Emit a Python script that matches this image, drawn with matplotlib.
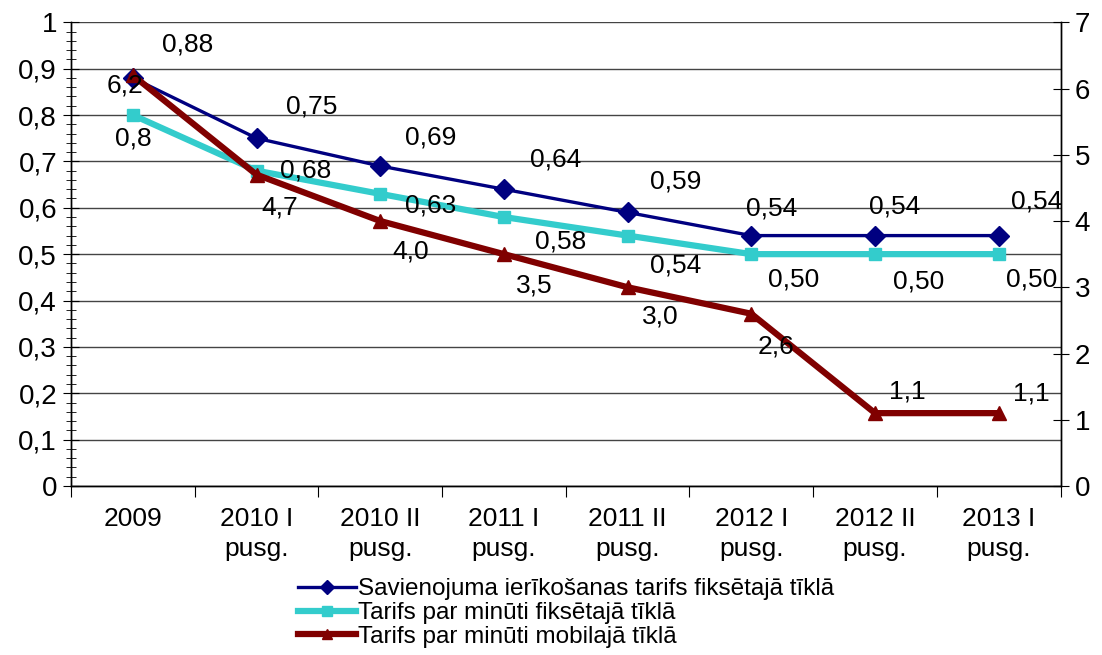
import matplotlib
matplotlib.use("Agg")
import matplotlib.pyplot as plt
from matplotlib.ticker import MultipleLocator, FuncFormatter

plt.rcParams['font.family'] = ['Liberation Sans', 'DejaVu Sans']

categories = ["2009", "2010 I\npusg.", "2010 II\npusg.", "2011 I\npusg.", "2011 II\npusg.",
              "2012 I\npusg.", "2012 II\npusg.", "2013 I\npusg."]
connection_fee = [0.88, 0.75, 0.69, 0.64, 0.59, 0.54, 0.54, 0.54]
fixed_minute = [0.80, 0.68, 0.63, 0.58, 0.54, 0.50, 0.50, 0.50]
mobile_minute = [6.2, 4.7, 4.0, 3.5, 3.0, 2.6, 1.1, 1.1]

conn_labels = ["0,88", "0,75", "0,69", "0,64", "0,59", "0,54", "0,54", "0,54"]
fixed_labels = ["0,8", "0,68", "0,63", "0,58", "0,54", "0,50", "0,50", "0,50"]
mobile_labels = ["6,2", "4,7", "4,0", "3,5", "3,0", "2,6", "1,1", "1,1"]

label_names = ["Savienojuma ierīkošanas tarifs fiksētajā tīklā",
               "Tarifs par minūti fiksētajā tīklā",
               "Tarifs par minūti mobilajā tīklā"]

c_blue = "#000080"
c_turq = "#33CCCC"
c_red = "#800000"

fig = plt.figure(figsize=(11.02, 6.55), dpi=100)
ax = fig.add_axes([0.0644, 0.258, 0.898, 0.708])
ax2 = ax.twinx()

x = list(range(len(categories)))
l1, = ax.plot(x, connection_fee, color=c_blue, lw=2.4, marker='D', ms=10, zorder=3)
l2, = ax.plot(x, fixed_minute, color=c_turq, lw=4.5, marker='s', ms=9, zorder=2)
l3, = ax2.plot(x, mobile_minute, color=c_red, lw=4.5, marker='^', ms=10, zorder=3)

ax.set_xlim(-0.5, len(categories) - 0.5)
ax.set_ylim(0, 1)
ax2.set_ylim(0, 7)

ax.yaxis.set_major_locator(MultipleLocator(0.1))
ax.yaxis.set_minor_locator(MultipleLocator(0.02))
ax.yaxis.set_major_formatter(FuncFormatter(lambda v, p: ("%g" % round(v, 1)).replace('.', ',')))
ax2.yaxis.set_major_locator(MultipleLocator(1))

ax.grid(axis='y', which='major', color='#444444', lw=1.0)
ax.set_axisbelow(True)

ax.set_xticks([i - 0.5 for i in range(len(categories) + 1)])
ax.set_xticklabels([])
ax.set_xticks(x, minor=True)
ax.set_xticklabels(categories, minor=True, fontsize=19, linespacing=1.3)
ax.tick_params(axis='x', which='major', direction='out', length=8, color='black')
ax.tick_params(axis='x', which='minor', length=0, pad=15)
ax.tick_params(axis='y', which='major', direction='inout', length=12, labelsize=20, pad=4)
ax.tick_params(axis='y', which='minor', direction='inout', length=7)
ax2.tick_params(axis='y', which='major', direction='inout', length=12, labelsize=20, pad=4)

for a in (ax, ax2):
    a.spines['top'].set_visible(False)
    for s in ('left', 'right', 'bottom'):
        a.spines[s].set_color('black')
        a.spines[s].set_linewidth(1.0)

fs = 19
conn_off = [(55, 33), (55, 32), (50, 29), (52, 30), (48, 31), (20, 27), (20, 29), (38, 34)]
for i, (v, t) in enumerate(zip(connection_fee, conn_labels)):
    ax.annotate(t, (i, v), xytext=conn_off[i], textcoords='offset pixels',
                ha='center', va='center', fontsize=fs, zorder=5)
fixed_off = [(0, -23), (49, 0), (50, -12), (57, -24), (48, -30), (42, -25), (44, -27), (33, -25)]
for i, (v, t) in enumerate(zip(fixed_minute, fixed_labels)):
    ax.annotate(t, (i, v), xytext=fixed_off[i], textcoords='offset pixels',
                ha='center', va='center', fontsize=fs, zorder=5)
mob_off = [(-8, -10), (23, -33), (30, -30), (30, -31), (33, -29), (25, -33), (32, 22), (33, 20)]
for i, (v, t) in enumerate(zip(mobile_minute, mobile_labels)):
    ax2.annotate(t, (i, v), xytext=mob_off[i], textcoords='offset pixels',
                 ha='center', va='center', fontsize=fs, zorder=5)

fig.legend([l1, l2, l3], label_names, loc='upper left', bbox_to_anchor=(0.259, 0.136),
           frameon=False, fontsize=17.5, handlelength=2.4, handletextpad=0.1,
           labelspacing=0.08, borderpad=0, markerscale=0.75)

fig.savefig("out.png", dpi=100)
